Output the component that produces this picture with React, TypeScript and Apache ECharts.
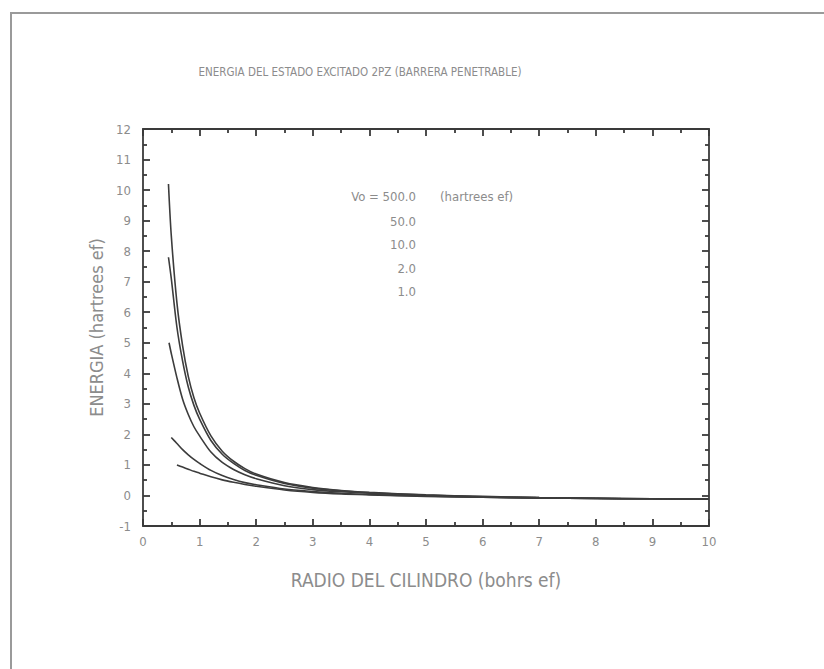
import React, { useEffect, useRef } from "react";
import * as echarts from "echarts";

const titleText = "ENERGIA DEL ESTADO EXCITADO 2PZ (BARRERA PENETRABLE)";
const xAxisName = "RADIO DEL CILINDRO (bohrs ef)";
const yAxisName = "ENERGIA (hartrees ef)";

const legendValues = ["500.0", "50.0", "10.0", "2.0", "1.0"];

const xV500 = [0.45, 0.5, 0.6, 0.7, 0.8, 0.9, 1.0, 1.2, 1.4, 1.6, 1.8, 2.0, 2.5, 3, 3.5, 4, 5, 6, 7, 8, 9, 10];
const yV500 = [10.2, 8.5, 6.3, 4.9, 3.9, 3.2, 2.7, 1.95, 1.45, 1.12, 0.88, 0.7, 0.42, 0.26, 0.16, 0.1, 0.02, -0.03, -0.07, -0.09, -0.11, -0.12];

const xV50 = [0.45, 0.5, 0.6, 0.7, 0.8, 0.9, 1.0, 1.2, 1.4, 1.6, 1.8, 2.0, 2.5, 3, 3.5, 4, 5, 6, 7, 8, 9, 10];
const yV50 = [7.8, 7.1, 5.5, 4.4, 3.55, 2.95, 2.5, 1.8, 1.35, 1.05, 0.82, 0.66, 0.39, 0.24, 0.15, 0.09, 0.01, -0.04, -0.07, -0.09, -0.11, -0.12];

const xV10 = [0.46, 0.5, 0.6, 0.7, 0.8, 0.9, 1.0, 1.2, 1.4, 1.6, 1.8, 2.0, 2.5, 3, 3.5, 4, 5, 6, 7, 8, 9, 10];
const yV10 = [5.0, 4.65, 3.85, 3.15, 2.65, 2.25, 1.95, 1.42, 1.08, 0.85, 0.68, 0.55, 0.32, 0.19, 0.12, 0.07, 0.0, -0.05, -0.08, -0.1, -0.11, -0.12];

const xV2 = [0.5, 0.6, 0.7, 0.8, 0.9, 1.0, 1.2, 1.4, 1.6, 1.8, 2.0, 2.5, 3, 3.5, 4, 5, 6, 7, 8, 9, 10];
const yV2 = [1.9, 1.7, 1.5, 1.33, 1.18, 1.05, 0.82, 0.65, 0.52, 0.42, 0.35, 0.21, 0.13, 0.07, 0.03, -0.02, -0.06, -0.08, -0.1, -0.11, -0.12];

const xV1 = [0.6, 0.7, 0.8, 0.9, 1.0, 1.2, 1.4, 1.6, 1.8, 2.0, 2.5, 3, 3.5, 4, 5, 6, 7, 8, 9, 10];
const yV1 = [1.0, 0.93, 0.86, 0.79, 0.73, 0.61, 0.51, 0.43, 0.36, 0.3, 0.18, 0.1, 0.05, 0.02, -0.03, -0.06, -0.08, -0.1, -0.11, -0.12];

const seriesX = [xV500, xV50, xV10, xV2, xV1];
const seriesY = [yV500, yV50, yV10, yV2, yV1];

const FONT = "'DejaVu Sans Condensed', 'Liberation Sans Narrow', 'Roboto Condensed', 'Liberation Sans', sans-serif";
const TEXT_GRAY = "#8c8c8c";
const AXIS = "#3a3a3a";

export default function App() {
  const ref = useRef<HTMLDivElement>(null);
  useEffect(() => {
    if (!ref.current) return;
    const chart = echarts.init(ref.current, null, { renderer: "svg" });
    const axisCommon = {
      type: "value" as const,
      axisLine: { show: true, onZero: false, lineStyle: { color: AXIS, width: 1.8 } },
      axisTick: { show: true, inside: true, length: 7, lineStyle: { color: AXIS, width: 1.8 } },
      minorTick: { show: true, splitNumber: 2, length: 4, lineStyle: { color: AXIS, width: 1.8 } },
      splitLine: { show: false },
    };
    const labelStyle = { color: TEXT_GRAY, fontFamily: FONT, fontSize: 13 };
    const option = {
      animation: false,
      backgroundColor: "#ffffff",
      grid: { left: 143, right: 115, top: 129, bottom: 143, containLabel: false },
      xAxis: [
        {
          ...axisCommon,
          min: 0, max: 10, interval: 1,
          position: "bottom",
          axisLabel: { ...labelStyle, margin: 9 },
          name: xAxisName,
          nameLocation: "middle",
          nameGap: 44,
          nameTextStyle: { color: TEXT_GRAY, fontFamily: FONT, fontSize: 19 },
        },
        {
          ...axisCommon,
          min: 0, max: 10, interval: 1,
          position: "top",
          axisLabel: { show: false },
        },
      ],
      yAxis: [
        {
          ...axisCommon,
          min: -1, max: 12, interval: 1,
          position: "left",
          axisLabel: { ...labelStyle, margin: 12 },
          name: yAxisName,
          nameLocation: "middle",
          nameGap: 36,
          nameRotate: 90,
          nameTextStyle: { color: TEXT_GRAY, fontFamily: FONT, fontSize: 18 },
        },
        {
          ...axisCommon,
          min: -1, max: 12, interval: 1,
          position: "right",
          axisLabel: { show: false },
        },
      ],
      graphic: [
        {
          type: "rect",
          shape: { x: 11, y: 13, width: 840, height: 700 },
          style: { fill: "none", stroke: "#9a9a9a", lineWidth: 2 },
          z: 0,
        },
        {
          type: "text",
          x: 360, y: 72,
          style: { text: titleText, fill: TEXT_GRAY, font: `11.5px ${FONT}`, textAlign: "center", textVerticalAlign: "middle" },
        },
        {
          type: "text",
          x: 440, y: 196,
          style: { text: "(hartrees ef)", fill: TEXT_GRAY, font: `13px ${FONT}`, textAlign: "left", textVerticalAlign: "middle" },
        },
        {
          type: "text",
          x: 416, y: 196,
          style: { text: "Vo = " + legendValues[0], fill: TEXT_GRAY, font: `13px ${FONT}`, textAlign: "right", textVerticalAlign: "middle" },
        },
        ...legendValues.slice(1).map((v, i) => ({
          type: "text",
          x: 416, y: 221 + i * 23.5,
          style: { text: v, fill: TEXT_GRAY, font: `13px ${FONT}`, textAlign: "right", textVerticalAlign: "middle" },
        })),
      ],
      series: seriesX.map((xs, si) => ({
        type: "line",
        xAxisIndex: 0,
        yAxisIndex: 0,
        data: xs.map((x, i) => [x, seriesY[si][i]]),
        smooth: 0.3,
        showSymbol: false,
        lineStyle: { color: "#3c3c3c", width: 1.6 },
        z: 3,
      })),
    };
    chart.setOption(option as any);
    return () => chart.dispose();
  }, []);
  return (
    <div
      ref={ref}
      style={{ position: "fixed", left: 0, top: 0, width: 824, height: 669 }}
    />
  );
}
